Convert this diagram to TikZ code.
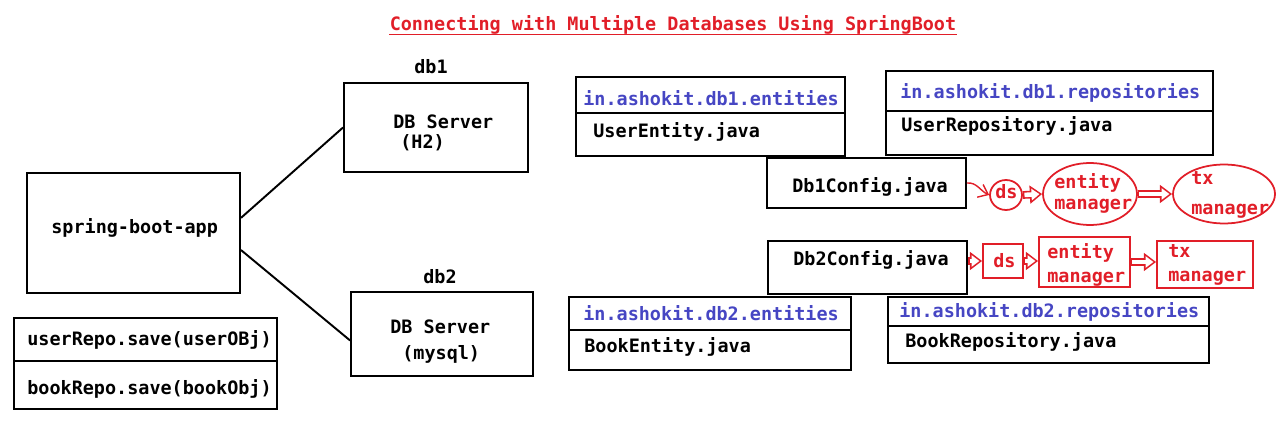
\documentclass[tikz,border=0pt]{standalone}
\usepackage{fontspec}
\setmainfont{DejaVu Sans Mono}
\usetikzlibrary{shapes.geometric,arrows.meta,fit}

\definecolor{rojo}{RGB}{225,30,40}
\definecolor{azul}{RGB}{70,70,195}
\newcommand{\tam}{\fontsize{10.5}{12}\selectfont}

\tikzset{
  caja/.style={draw, line width=1.1pt, inner sep=0pt},
  rcaja/.style={draw=rojo, line width=1pt, inner sep=0pt},
  relipse/.style={ellipse, draw=rojo, line width=1pt, inner sep=0pt},
  txt/.style={anchor=base west, inner sep=0pt, font=\tam\bfseries},
  paquete/.style={anchor=base west, inner sep=0pt, font=\tam\bfseries, text=azul},
  rtexto/.style={anchor=west, inner sep=0pt, font=\tam\bfseries, text=rojo, align=left},
  hueco/.style={draw=rojo, line width=4.4pt, -{Triangle[length=7pt, width=10pt]},
    postaction={draw=white, line width=2.6pt, shorten <=0.9pt, shorten >=1.55pt,
      -{Triangle[length=4.5pt, width=6.4pt]}}},
}

\begin{document}
\begin{tikzpicture}[x=0.02cm, y=-0.02cm]
\useasboundingbox (0,0) rectangle (1280,422);

% Titulo
\node[anchor=base, inner sep=0pt, font=\tam\bfseries, text=rojo] (titulo) at (673,31) {Connecting with Multiple Databases Using SpringBoot};
\draw[rojo, line width=1.1pt] ([yshift=-2pt]titulo.base west) -- ([yshift=-2pt]titulo.base east);

% Aplicacion y servidores
\node[caja, fit={(27,173) (240,293)}] (app) {};
\node[caja, fit={(344,83) (528,172)}] (srv1) {};
\node[caja, fit={(351,292) (533,376)}] (srv2) {};
\node[caja, fit={(14,318) (277,409)}] (repos) {};
\draw[line width=1.1pt] (repos.west |- 0,361) -- (repos.east |- 0,361);

\node[txt] (tapp) at (51,234) {spring-boot-app};
\node[txt] (tdb1) at (414,74) {db1};
\node[txt] (tsrv1) at (393,129) {DB Server};
\node[txt] (th2) at (400,149) {(H2)};
\node[txt] (tdb2) at (423,283) {db2};
\node[txt] (tsrv2) at (390,333) {DB Server};
\node[txt] (tmysql) at (402,359) {(mysql)};
\node[txt] (tsave1) at (27,345) {userRepo.save(userOBj)};
\node[txt] (tsave2) at (27,394) {bookRepo.save(bookObj)};

% Conexiones
\draw[line width=1.1pt] (app.8) -- (srv1.west);
\draw[line width=1.1pt] (app.-9) -- (srv2.184);

% Paquetes db1
\node[caja, fit={(576,77) (845,156)}] (ent1) {};
\draw[line width=1.1pt] (ent1.west |- 0,113) -- (ent1.east |- 0,113);
\node[paquete] (tpent1) at (583,106) {in.ashokit.db1.entities};
\node[txt] (tent1) at (593,138) {UserEntity.java};

\node[caja, fit={(886,71) (1213,155)}] (rep1) {};
\draw[line width=1.1pt] (rep1.west |- 0,111) -- (rep1.east |- 0,111);
\node[paquete] (tprep1) at (900,99) {in.ashokit.db1.repositories};
\node[txt] (trep1) at (901,132) {UserRepository.java};

% Configuraciones
\node[caja, fit={(767,158) (966,208)}] (cfg1) {};
\node[txt] (tcfg1) at (792,193) {Db1Config.java};
\node[caja, fit={(768,241) (967,294)}] (cfg2) {};
\node[txt] (tcfg2) at (793,265) {Db2Config.java};

% Paquetes db2
\node[caja, fit={(569,297) (851,370)}] (ent2) {};
\draw[line width=1.1pt] (ent2.west |- 0,330) -- (ent2.east |- 0,330);
\node[paquete] (tpent2) at (583,320) {in.ashokit.db2.entities};
\node[txt] (tent2) at (584,352) {BookEntity.java};

\node[caja, fit={(888,297) (1209,363)}] (rep2) {};
\draw[line width=1.1pt] (rep2.west |- 0,326) -- (rep2.east |- 0,326);
\node[paquete] (tprep2) at (899,317) {in.ashokit.db2.repositories};
\node[txt] (trep2) at (905,347) {BookRepository.java};

% Cadena roja db1
\node[relipse, minimum width=0.64cm, minimum height=0.6cm] (ds1) at (1006,195) {};
\node[relipse, minimum width=1.88cm, minimum height=1.24cm] (em1) at (1090,194) {};
\node[relipse, minimum width=2.04cm, minimum height=1.18cm] (tx1) at (1224,194) {};
\node[anchor=base west, inner sep=0pt, font=\tam\bfseries, text=rojo] (tds1) at (995,198) {ds};
\node[rtexto] (tem1) at (1054,193) {entity\\manager};
\node[rtexto] (ttx1) at (1191,195) {tx\\[5pt]manager};

\draw[rojo, line width=0.8pt, -{Straight Barb[length=5pt, width=8pt]}] (cfg1.east) to[out=5, in=155] (ds1.west);
\draw[hueco] (ds1.east) -- (em1.west);
\draw[hueco] (em1.east) -- (tx1.west);

% Cadena roja db2
\node[rcaja, fit={(983,244) (1023,278)}] (ds2) {};
\node[rcaja, fit={(1039,237) (1130,287)}] (em2) {};
\node[rcaja, fit={(1157,241) (1253,288)}] (tx2) {};
\node[anchor=base west, inner sep=0pt, font=\tam\bfseries, text=rojo] (tds2) at (993,267) {ds};
\node[rtexto] (tem2) at (1047,265) {entity\\[2pt]manager};
\node[rtexto] (ttx2) at (1168,265) {tx\\[2pt]manager};

\draw[hueco] (cfg2.east |- ds2.west) -- (ds2.west);
\draw[hueco] (ds2.east) -- (em2.west |- ds2.east);
\draw[hueco] (em2.east) -- (tx2.west |- em2.east);

\end{tikzpicture}
\end{document}
